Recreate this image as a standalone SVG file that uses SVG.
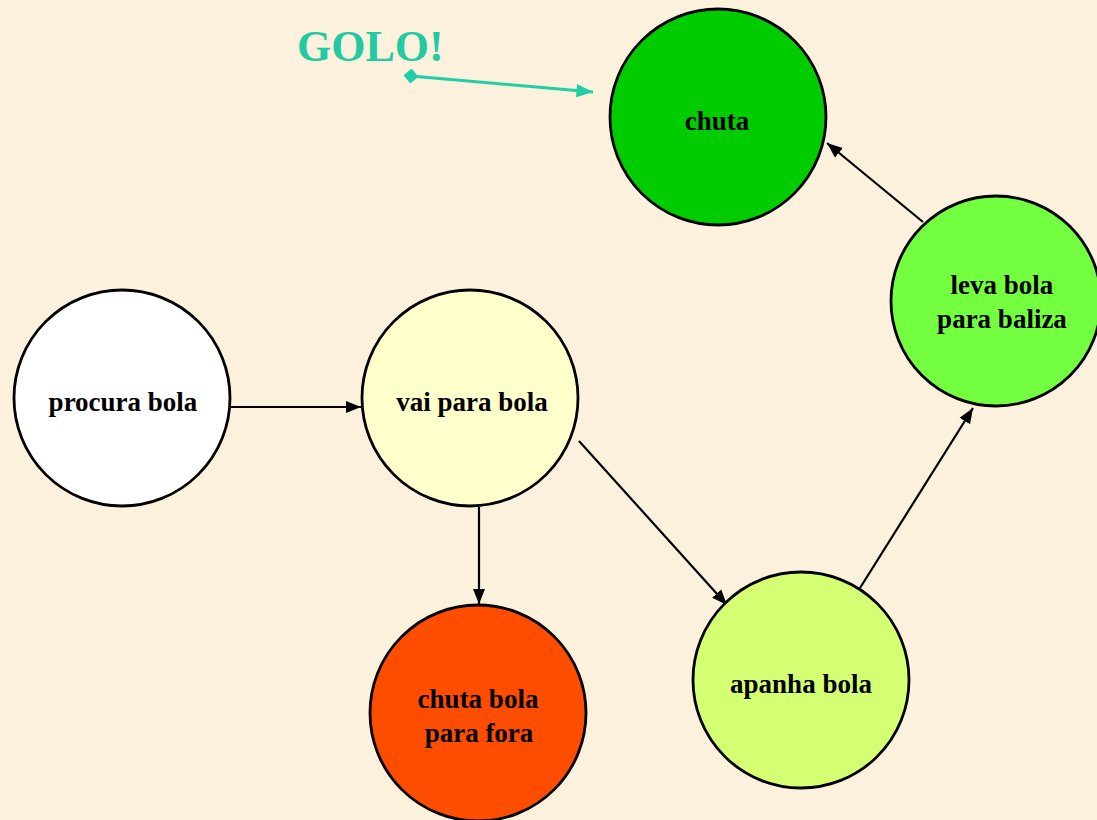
<svg xmlns="http://www.w3.org/2000/svg" width="1097" height="820" viewBox="0 0 1097 820">
  <defs>
    <style>
      .node { stroke: #000; stroke-width: 2.8; }
      .label { font-family: "Liberation Serif", "Times New Roman", serif; font-weight: bold; font-size: 27px; fill: #000; text-anchor: middle; }
      .edge { stroke: #000; stroke-width: 2.2; fill: none; marker-end: url(#arrow); }
      .goal { stroke: #1FCFA8; stroke-width: 3; fill: none; marker-start: url(#diamond); marker-end: url(#arrowTeal); }
    </style>
    <marker id="arrow" viewBox="0 0 10 10" refX="10" refY="5" markerWidth="7" markerHeight="7" orient="auto" markerUnits="strokeWidth">
      <path d="M0,1 L10,5 L0,9 z" fill="#000"/>
    </marker>
    <marker id="arrowTeal" viewBox="0 0 10 10" refX="10" refY="5" markerWidth="5.5" markerHeight="5.5" orient="auto" markerUnits="strokeWidth">
      <path d="M0,1 L10,5 L0,9 z" fill="#1FCFA8"/>
    </marker>
    <marker id="diamond" viewBox="0 0 10 10" refX="5" refY="5" markerWidth="5" markerHeight="5" orient="auto" markerUnits="strokeWidth">
      <path d="M0,5 L5,0 L10,5 L5,10 z" fill="#1FCFA8"/>
    </marker>
  </defs>

  <rect width="1097" height="820" fill="#FCF1DC"/>

  <g id="connectors">
    <line class="edge" x1="231" y1="407" x2="361" y2="407"/>
    <line class="edge" x1="479" y1="507" x2="479" y2="604"/>
    <line class="edge" x1="579" y1="441" x2="727" y2="605"/>
    <line class="edge" x1="860" y1="588" x2="973" y2="408"/>
    <line class="edge" x1="923" y1="222" x2="827" y2="143"/>
    <line class="goal" x1="411" y1="76" x2="593" y2="92"/>
  </g>

  <text id="golo" x="297" y="61" font-family="'Liberation Serif', 'Times New Roman', serif" font-weight="bold" font-size="44" fill="#22C9A3">GOLO!</text>

  <g id="chuta">
    <circle class="node" cx="718" cy="117" r="108" fill="#00CC00"/>
    <text class="label" x="717" y="130">chuta</text>
  </g>
  <g id="leva-bola">
    <circle class="node" cx="996" cy="301" r="105" fill="#73FF40"/>
    <text class="label" x="1002" y="294">leva bola</text>
    <text class="label" x="1002" y="328">para baliza</text>
  </g>
  <g id="procura-bola">
    <circle class="node" cx="122" cy="398" r="108" fill="#FFFFFF"/>
    <text class="label" x="123" y="411">procura bola</text>
  </g>
  <g id="vai-para-bola">
    <circle class="node" cx="470" cy="398" r="108" fill="#FFFFCC"/>
    <text class="label" x="472" y="411">vai para bola</text>
  </g>
  <g id="chuta-fora">
    <circle class="node" cx="478" cy="713" r="108" fill="#FF4D00"/>
    <text class="label" x="478" y="708">chuta bola</text>
    <text class="label" x="479" y="742">para fora</text>
  </g>
  <g id="apanha-bola">
    <circle class="node" cx="801" cy="680" r="108" fill="#D5FF73"/>
    <text class="label" x="801" y="693">apanha bola</text>
  </g>
</svg>
